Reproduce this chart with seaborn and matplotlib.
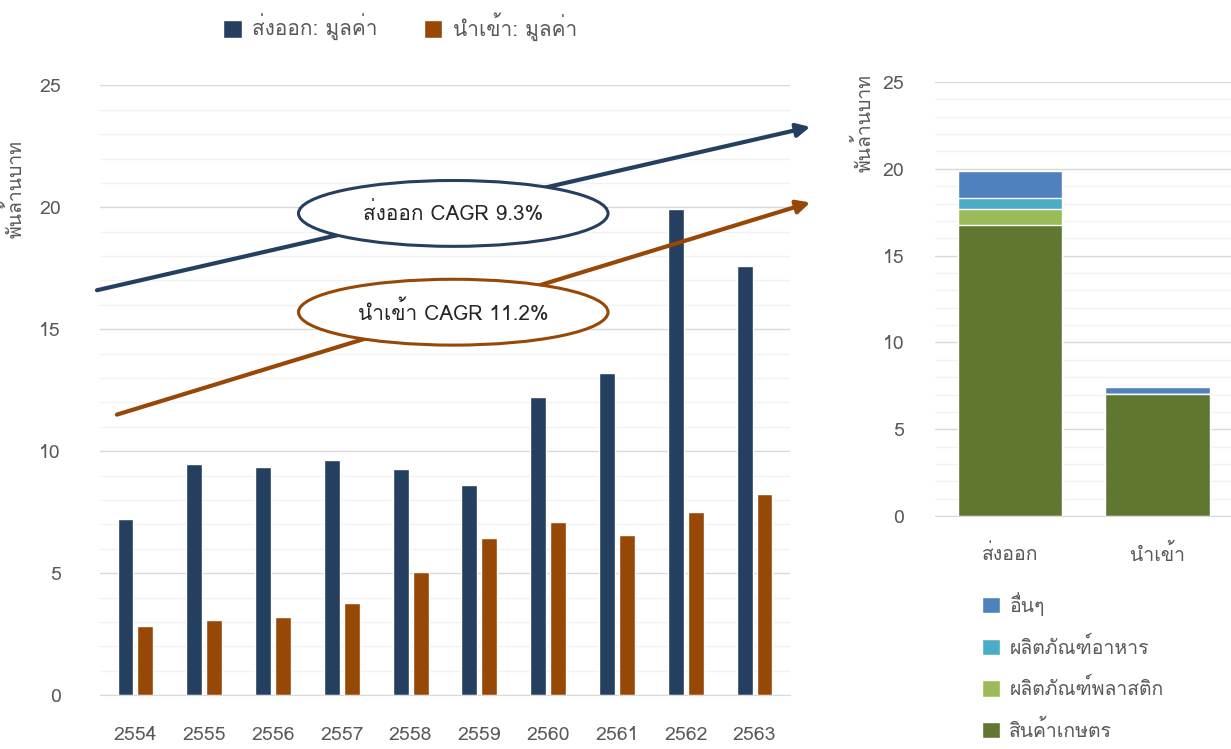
import matplotlib
matplotlib.use('Agg')
import matplotlib.pyplot as plt
import seaborn as sns
import pandas as pd
from matplotlib import font_manager
from matplotlib.ft2font import FT2Font
from matplotlib.patches import Ellipse
from matplotlib.ticker import MultipleLocator

################### Data ######################################################
years = ['2554', '2555', '2556', '2557', '2558', '2559', '2560', '2561', '2562', '2563']
export_value = [7.2, 9.47, 9.34, 9.65, 9.26, 8.62, 12.22, 13.2, 19.92, 17.58]
import_value = [2.83, 3.07, 3.2, 3.77, 5.04, 6.43, 7.09, 6.56, 7.5, 8.24]
series_names = ['ส่งออก: มูลค่า', 'นำเข้า: มูลค่า']

groups = ['ส่งออก', 'นำเข้า']
agri = [16.76, 7.03]
plastic = [0.92, 0.0]
food = [0.64, 0.0]
others = [1.55, 0.40]
stack_names = ['อื่นๆ', 'ผลิตภัณฑ์อาหาร', 'ผลิตภัณฑ์พลาสติก', 'สินค้าเกษตร']

cagr_labels = ['ส่งออก CAGR 9.3%', 'นำเข้า CAGR 11.2%']
# trend arrows (start, end) in category/value units
export_arrow = [(-0.56, 16.6), (9.81, 23.3)]
import_arrow = [(-0.27, 11.5), (9.81, 20.2)]

################### Style #####################################################
sns.set_style("white")

# pick a font that has Thai glyphs
thai_font = None
for f in font_manager.fontManager.ttflist:
    try:
        if ord('ก') in FT2Font(f.fname).get_charmap():
            thai_font = f.name
            break
    except Exception:
        pass
plt.rcParams['font.family'] = [thai_font, 'DejaVu Sans'] if thai_font else ['DejaVu Sans']

GREY = '#595959'
C_EXP, C_IMP = '#243F60', '#974706'
C_STACK = ['#4F81BD', '#4BACC6', '#9BBB59', '#5F7731']

fig = plt.figure(figsize=(12.31, 7.49), dpi=100)
ax1 = fig.add_axes([0.081, 0.072, 0.561, 0.814])
ax2 = fig.add_axes([0.7595, 0.311, 0.2405, 0.5795])


def style_axis(ax, ypad, xpad):
    ax.set_ylim(0, 25)
    ax.yaxis.set_major_locator(MultipleLocator(5))
    ax.yaxis.set_minor_locator(MultipleLocator(1))
    ax.grid(axis='y', which='major', color='#D9D9D9', lw=1)
    ax.grid(axis='y', which='minor', color='#F2F2F2', lw=1)
    ax.set_axisbelow(True)
    for s in ['top', 'right', 'left']:
        ax.spines[s].set_visible(False)
    ax.spines['bottom'].set_color('#D9D9D9')
    ax.tick_params(axis='both', which='both', length=0, colors=GREY, labelsize=14)
    ax.tick_params(axis='y', pad=ypad)
    ax.tick_params(axis='x', pad=xpad)
    ax.set_xlabel('')


################### Left chart ################################################
df = pd.DataFrame({
    'year': years * 2,
    'value': export_value + import_value,
    'series': [series_names[0]] * len(years) + [series_names[1]] * len(years),
})
sns.barplot(data=df, x='year', y='value', hue='series', ax=ax1,
            palette=[C_EXP, C_IMP], width=0.58, gap=0.2, saturation=1)
style_axis(ax1, 28, 22)
ax1.set_xlim(-0.52, 9.52)
ax1.set_ylabel('พันล้านบาท', color=GREY, fontsize=14)
ax1.yaxis.set_label_coords(-0.108, 0.83)
sns.move_legend(ax1, 'upper center', bbox_to_anchor=(0.435, 1.15), ncol=2,
                frameon=False, title=None, fontsize=15, handlelength=0.9,
                handleheight=0.9, columnspacing=2.2, handletextpad=0.5)
for t in ax1.get_legend().get_texts():
    t.set_color(GREY)

# CAGR arrows and ellipses
for arrow, col, label, yc in [(export_arrow, C_EXP, cagr_labels[0], 19.75),
                              (import_arrow, C_IMP, cagr_labels[1], 15.7)]:
    ax1.annotate('', xy=arrow[1], xytext=arrow[0], annotation_clip=False,
                 arrowprops=dict(arrowstyle='-|>', color=col, lw=3,
                                 mutation_scale=20, shrinkA=0, shrinkB=0),
                 zorder=5)
    ax1.add_patch(Ellipse((4.62, yc), 4.5, 2.7, facecolor='white',
                          edgecolor=col, lw=2.2, zorder=6))
    ax1.text(4.62, yc, label, ha='center', va='center', fontsize=15,
             color='#262626', zorder=7)

################### Right chart ###############################################
lvl3 = [a + b + c for a, b, c in zip(agri, plastic, food)]
lvl2 = [a + b for a, b in zip(agri, plastic)]
totals = [a + b for a, b in zip(lvl3, others)]
for vals, col, name in zip([totals, lvl3, lvl2, agri], C_STACK, stack_names):
    sns.barplot(x=groups, y=vals, ax=ax2, color=col, width=0.71,
                saturation=1, label=name)
style_axis(ax2, 22, 20)
ax2.set_xlim(-0.51, 1.5)
ax2.set_ylabel('พันล้านบาท', color=GREY, fontsize=14)
ax2.yaxis.set_label_coords(-0.205, 0.905)
leg = ax2.legend(loc='upper left', bbox_to_anchor=(0.1, -0.135), frameon=False,
                 fontsize=14, handlelength=0.9, handleheight=0.9,
                 labelspacing=1.05, handletextpad=0.5)
for t in leg.get_texts():
    t.set_color(GREY)

fig.savefig('out.png', dpi=100)
